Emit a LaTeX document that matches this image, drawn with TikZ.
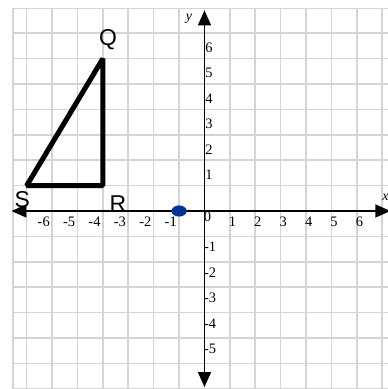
\documentclass[tikz,border=0pt]{standalone}
\usepackage{fontspec}
\setmainfont{Liberation Serif}
\newfontfamily\labfont{Liberation Sans}
\usetikzlibrary{arrows.meta}
\definecolor{gridgray}{RGB}{212,212,212}
\definecolor{dotblue}{RGB}{5,50,150}
\begin{document}
\begin{tikzpicture}[x=25.4bp,y=25.4bp,
  gridline/.style={draw=gridgray,line width=1.6bp},
  axisline/.style={draw=black,line width=1.5bp,{Triangle[length=15bp,width=13bp]}-{Triangle[length=15bp,width=13bp]}},
  ticklab/.style={inner sep=0pt,font=\fontsize{14.5}{14.5}\selectfont},
  vlab/.style={inner sep=0pt,font=\labfont\fontsize{23}{23}\selectfont},
  triline/.style={draw=black,line width=5bp,line join=bevel}]
\useasboundingbox (-8.051,-7.008) rectangle (7.224,8.307);
\fill[white] (-8.051,-7.008) rectangle (7.224,8.307);
% grid
\foreach \i in {-7,...,7} \draw[gridline] (\i,-7.1) -- (\i,7.98);
\draw[gridline] (-7.53,-7.1) -- (-7.53,7.98);
\foreach \j in {-7,...,7} \draw[gridline] (-7.53,\j) -- (7.3,\j);
\draw[gridline] (-7.53,7.98) -- (7.3,7.98);
% axes
\coordinate (xl) at (-7.6,0);
\coordinate (xr) at (7.32,0);
\coordinate (yb) at (0,-6.93);
\coordinate (yt) at (0,7.9);
\draw[axisline] (xl) -- (xr);
\draw[axisline] (yb) -- (yt);
\node[font=\itshape\fontsize{14}{14}\selectfont,inner sep=0pt] (ylab) at (-0.61,7.55) {y};
\node[font=\itshape\fontsize{14}{14}\selectfont,inner sep=0pt] (xlab) at (7.12,0.55) {x};
% tick labels
\foreach \k in {1,...,6} \node[ticklab] (xp\k) at (\k+0.1,-0.42) {\k};
\foreach \k in {1,...,6} \node[ticklab] (xn\k) at (-\k-0.33,-0.42) {-\k};
\node[ticklab] (zero) at (0.12,-0.22) {0};
\foreach \k in {1,...,6} \node[ticklab,anchor=west] (yp\k) at (0.03,\k+0.42) {\k};
\foreach \k in {1,...,5} \node[ticklab,anchor=west] (yn\k) at (-0.02,-\k-0.42) {-\k};
% triangle
\coordinate (Sv) at (-7,1);
\coordinate (Rv) at (-4,1);
\coordinate (Qv) at (-4,6);
\draw[triline] (Sv) -- (Rv) -- (Qv) -- cycle;
\node[vlab] (Q) at (-3.8,6.73) {Q};
\node[vlab] (S) at (-7.17,0.43) {S};
\node[vlab] (R) at (-3.41,0.28) {R};
% point
\fill[dotblue] (-1,0) ellipse [x radius=0.3,y radius=0.22];
\node[inner sep=0pt] (P) at (-1,0) {};
\end{tikzpicture}
\end{document}
